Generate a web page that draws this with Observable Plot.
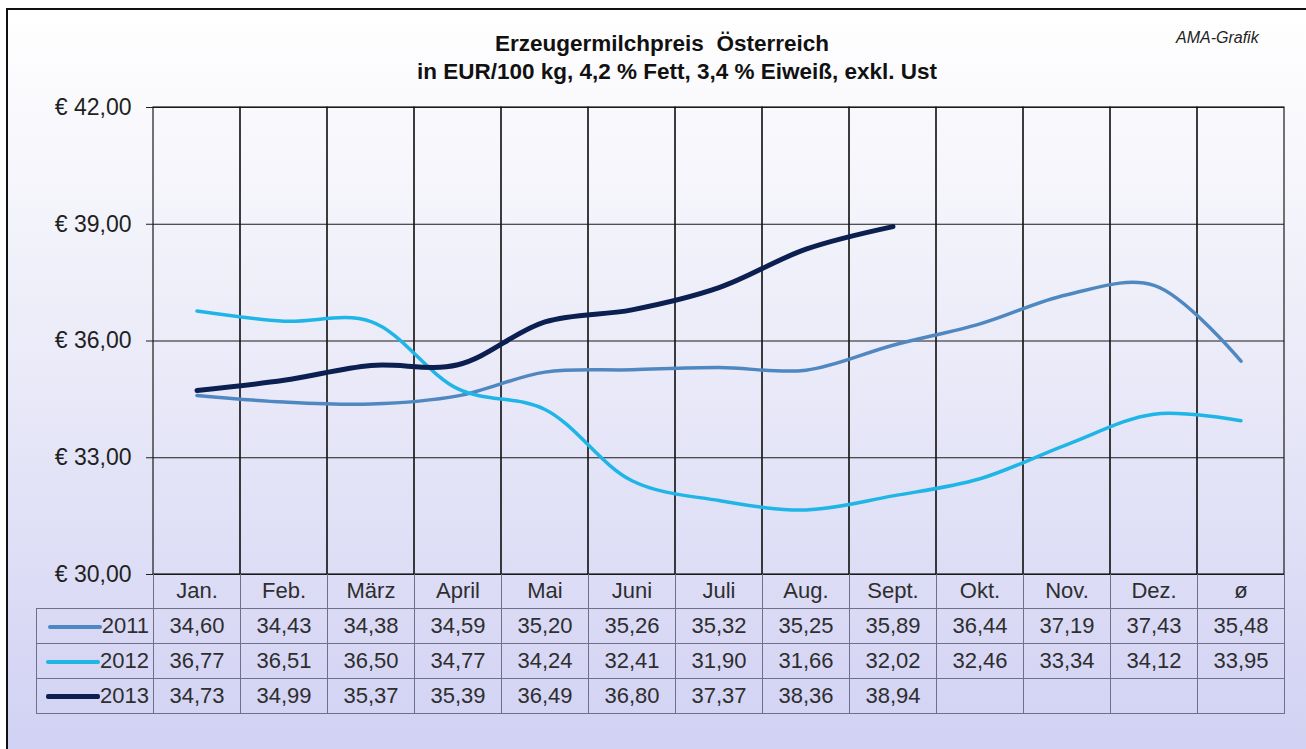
<!DOCTYPE html>
<html>
<head>
<meta charset="utf-8">
<script src="https://cdn.jsdelivr.net/npm/d3@7"></script>
<script src="https://cdn.jsdelivr.net/npm/@observablehq/plot@0.6"></script>
<style>
  html, body { margin: 0; padding: 0; width: 1306px; height: 749px; overflow: hidden; background: #fff; }
  body { font-family: "Liberation Sans", Arial, sans-serif; position: relative; }
  #frame { position: absolute; left: 6px; top: 8px; width: 1330px; height: 770px; border: 2px solid #111;
           background: linear-gradient(to bottom, #ffffff 0%, #f4f4fb 25%, #e6e6f8 55%, #cfcff3 100%); }
  #chart { position: absolute; left: 0; top: 0; }
  .title { position: absolute; font-weight: bold; font-size: 22.5px; line-height: 22px; color: #111; text-align: center; white-space: pre; }
  #ama { position: absolute; left: 1176px; top: 30px; font-style: italic; font-size: 16px; line-height: 16px; color: #222; }
  #tbl { position: absolute; border-collapse: collapse; table-layout: fixed; font-size: 22px; color: #2e2e2e; }
  #tbl td { padding: 0; text-align: center; vertical-align: middle; border: 1px solid #6d7088; box-sizing: border-box; }
  #tbl tr.head td { border-top: none; }
  #tbl tr.head td.blank { border-left: none; border-top: none; }
  #tbl td.leg { text-align: right; padding-right: 4px; white-space: nowrap; }
  .sw { display: inline-block; width: 54px; vertical-align: middle; margin-right: 0px; border-radius: 2px; }
</style>
</head>
<body>
<div id="frame"></div>
<div id="chart"></div>
<div class="title" id="t1" style="left:0; width:1324px; top:33px;">Erzeugermilchpreis  Österreich</div>
<div class="title" id="t2" style="left:0; width:1354px; top:61px;">in EUR/100 kg, 4,2 % Fett, 3,4 % Eiweiß, exkl. Ust</div>
<div id="ama">AMA-Grafik</div>
<script>
const months = ["Jan.","Feb.","März","April","Mai","Juni","Juli","Aug.","Sept.","Okt.","Nov.","Dez.","ø"];
const years = ["2011","2012","2013"];
const v2011 = [34.60,34.43,34.38,34.59,35.20,35.26,35.32,35.25,35.89,36.44,37.19,37.43,35.48];
const v2012 = [36.77,36.51,36.50,34.77,34.24,32.41,31.90,31.66,32.02,32.46,33.34,34.12,33.95];
const v2013 = [34.73,34.99,35.37,35.39,36.49,36.80,37.37,38.36,38.94];
const yTicks = [30,33,36,39,42];
const colors = ["#4f88c0","#1fb5e6","#0b1f50"];
const widths = [3.5,3.5,5];

const series = [v2011, v2012, v2013];
const rows = [];
series.forEach((vals, i) => vals.forEach((v, j) => rows.push({year: years[i], month: months[j], value: v})));

const fmtEuro = d => "€ " + d.toFixed(2).replace(".", ",");
const fmtNum = d => d.toFixed(2).replace(".", ",");

const plot = Plot.plot({
  width: 1306,
  height: 749,
  marginTop: 107,
  marginBottom: 175,
  marginLeft: 153,
  marginRight: 22,
  style: { background: "transparent", fontFamily: "'Liberation Sans', Arial, sans-serif", fontSize: "23px", color: "#1f1f1f", overflow: "visible" },
  x: { type: "band", domain: months, padding: 0, axis: null },
  y: { domain: [30, 42], ticks: yTicks, tickFormat: fmtEuro, tickSize: 7, tickPadding: 15, label: null },
  marks: [
    Plot.ruleY(yTicks, { stroke: "#1a1a1a", strokeWidth: 1.2 }),
    Plot.cell(months, { x: d => d, fill: "none", stroke: "#1a1a1a", strokeWidth: 1.2 }),
    ...years.map((yr, i) => Plot.line(rows.filter(r => r.year === yr), {
      x: "month", y: "value", stroke: colors[i], strokeWidth: widths[i],
      curve: "catmull-rom", strokeLinecap: "round", strokeLinejoin: "round"
    }))
  ]
});
document.getElementById("chart").appendChild(plot);

// Data table below the plot, aligned with the x scale
const xs = plot.scale("x");
const ys = plot.scale("y");
const r0 = xs.range[0], r1 = xs.range[1];
const step = (r1 - r0) / months.length;
const tableLeft = 36;
const tbl = document.createElement("table");
tbl.id = "tbl";
tbl.style.left = tableLeft + "px";
tbl.style.top = ys.apply(30) + "px";
tbl.style.width = (r1 - tableLeft) + "px";
const cg = document.createElement("colgroup");
const c0 = document.createElement("col"); c0.style.width = (r0 - tableLeft) + "px"; cg.appendChild(c0);
months.forEach(() => { const c = document.createElement("col"); c.style.width = step + "px"; cg.appendChild(c); });
tbl.appendChild(cg);

const head = document.createElement("tr");
head.className = "head"; head.style.height = "34px";
const blank = document.createElement("td"); blank.className = "blank"; blank.style.borderBottom = "1px solid #6d7088"; head.appendChild(blank);
months.forEach(m => { const td = document.createElement("td"); td.textContent = m; head.appendChild(td); });
tbl.appendChild(head);

series.forEach((vals, i) => {
  const tr = document.createElement("tr");
  tr.style.height = "35px";
  const lg = document.createElement("td"); lg.className = "leg";
  const sw = document.createElement("span"); sw.className = "sw";
  sw.style.height = (i === 2 ? 5 : 4) + "px"; sw.style.background = colors[i];
  lg.appendChild(sw);
  lg.appendChild(document.createTextNode(years[i]));
  tr.appendChild(lg);
  months.forEach((m, j) => {
    const td = document.createElement("td");
    td.textContent = j < vals.length ? fmtNum(vals[j]) : "";
    tr.appendChild(td);
  });
  tbl.appendChild(tr);
});
document.body.appendChild(tbl);
</script>
</body>
</html>
